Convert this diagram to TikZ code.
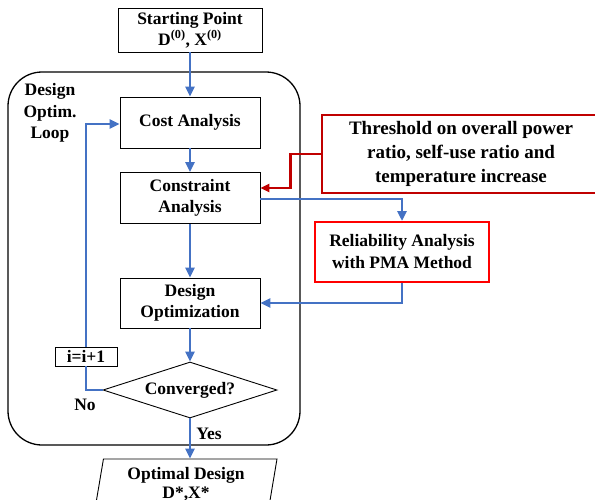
\documentclass[tikz,border=0pt]{standalone}
\usepackage{fontspec}
\setmainfont{Liberation Serif}
\usetikzlibrary{arrows.meta,shapes.geometric,calc}
\definecolor{flowblue}{HTML}{4472C4}
\definecolor{darkred}{HTML}{C00000}
\definecolor{brightred}{HTML}{FF0000}
\tikzset{
  txt/.style={font=\fontsize{17.5}{21}\selectfont\bfseries, align=center, inner sep=0pt},
  box/.style={txt, draw=black, line width=0.9pt},
  flow/.style={draw=flowblue, line width=2.8pt, -{Triangle[length=10pt,width=9pt]}},
  flowline/.style={draw=flowblue, line width=2.8pt},
  redflow/.style={draw=darkred, line width=2.6pt, -{Triangle[length=9pt,width=8pt]}},
}
\begin{document}
\begin{tikzpicture}[x=1pt,y=-1pt]
\useasboundingbox (0,0) rectangle (595,499);

% optimisation loop container
\node[draw=black, line width=1.3pt, rounded corners=34pt,
      minimum width=292pt, minimum height=373pt] (loop) at (154,258.5) {};
\node[txt, font=\fontsize{17.5}{21.5}\selectfont\bfseries] (looplbl) at (50,113) {Design\\Optim.\\Loop};

% main flow
\node[box, minimum width=144pt, minimum height=44pt] (start) at (190,30)
  {Starting Point\\D\textsuperscript{(0)}, X\textsuperscript{(0)}};
\node[box, minimum width=140pt, minimum height=51pt] (cost) at (190,122.5) {Cost Analysis};
\node[box, minimum width=140pt, minimum height=51pt] (cons) at (190,198) {Constraint\\Analysis};
\node[box, minimum width=140pt, minimum height=50pt] (dopt) at (190,303) {Design\\Optimization};
\node[box, shape=diamond, aspect=3.1, minimum width=174pt, minimum height=56pt] (conv) at (190,390) {Converged?};
\node[box, minimum width=62pt, minimum height=19pt] (inc) at (86,356.5) {i=i+1};
\node[box, shape=trapezium, trapezium left angle=76, trapezium right angle=104,
      trapezium stretches body, minimum width=182pt, minimum height=50pt] (opt) at (186,484)
  {Optimal Design\\[-2pt]D*,X*};

% side boxes
\node[txt, draw=darkred, line width=1.5pt, minimum width=278pt, minimum height=78pt,
      font=\fontsize{19}{24}\selectfont\bfseries] (thr) at (461,154)
  {Threshold on overall power\\ratio, self-use ratio and\\temperature increase};
\node[txt, draw=brightred, line width=2pt, minimum width=174pt, minimum height=60pt,
      font=\fontsize{17.5}{22}\selectfont\bfseries] (rel) at (402,252)
  {Reliability Analysis\\with PMA Method};

% connectors
\draw[flow] (start.south) -- (cost.north);
\draw[flow] (cost.south) -- (cons.north);
\draw[flow] (cons.south) -- (dopt.north);
\draw[flow] (dopt.south) -- (conv.north);
\draw[flow] (conv.south) -- (conv.south |- opt.north);
\draw[flowline] (conv.west) -| (inc.south);
\draw[flow] (inc.north) |- ([yshift=-1.5pt]cost.west);
\draw[flow] ([yshift=-1pt]cons.east) -| (rel.north);
\draw[flow] (rel.south) |- (dopt.east);
\draw[redflow] (thr.west) -- ++(-31,0) |- ([yshift=10pt]cons.east);

% branch labels
\node[txt] (nolbl) at (85,405) {No};
\node[txt] (yeslbl) at (209,434) {Yes};
\end{tikzpicture}
\end{document}
